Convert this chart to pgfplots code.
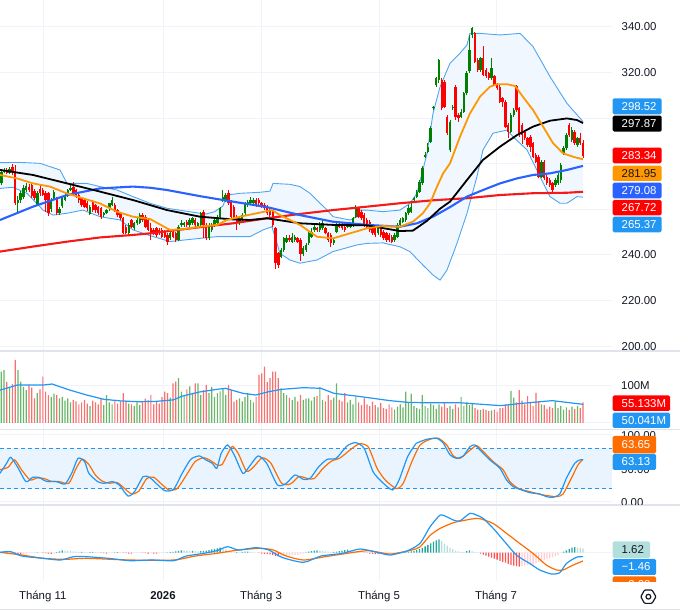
\documentclass[border=0pt]{standalone}
\usepackage{fontspec}
\setmainfont{Liberation Sans}
\usepackage{pgfplots}
\usepackage{pgfplotstable}
\pgfplotsset{compat=1.18}

\definecolor{gridc}{RGB}{240,243,250}
\definecolor{sepc}{RGB}{224,227,235}
\definecolor{textc}{RGB}{19,23,34}
\definecolor{cgreen}{RGB}{0,128,0}
\definecolor{cred}{RGB}{255,0,0}
\definecolor{vgreen}{RGB}{105,182,105}
\definecolor{vred}{RGB}{248,112,112}
\definecolor{bbline}{RGB}{80,165,240}
\definecolor{bbfill}{RGB}{240,247,254}
\definecolor{maorange}{RGB}{255,152,0}
\definecolor{mablue}{RGB}{41,98,255}
\definecolor{mared}{RGB}{245,25,25}
\definecolor{tvblue}{RGB}{33,150,243}
\definecolor{tvorange}{RGB}{255,109,0}
\definecolor{hdt}{RGB}{38,166,154}
\definecolor{hlt}{RGB}{178,223,219}
\definecolor{hr}{RGB}{255,82,82}
\definecolor{hlr}{RGB}{255,205,210}
\definecolor{stfill}{RGB}{233,244,254}
\newcommand\lf{\fontsize{11.4}{13}\selectfont}

\pgfplotstableread{
i o h l c v
0 271.4 277.5 270.5 276.5 138
1 276.5 278.0 275.8 277.3 142
2 277.3 278.0 275.5 276.0 110
3 276.0 278.5 275.5 277.5 97
4 278.7 280.0 275.0 276.5 105
5 276.5 279.5 262.0 262.6 169
6 262.6 266.0 258.5 264.0 142
7 264.0 268.0 263.0 267.0 111
8 265.6 270.5 264.5 269.2 97
9 268.5 271.5 267.5 270.2 88
10 270.0 271.0 267.5 268.5 102
11 270.5 272.0 265.0 266.0 95
12 268.0 269.0 264.0 265.0 66
13 262.0 268.0 261.5 267.0 80
14 269.0 270.5 266.0 267.0 90
15 268.5 269.5 265.8 266.5 124
16 267.0 268.0 259.0 264.0 84
17 267.0 267.5 257.0 258.3 75
18 260.0 265.0 259.0 264.0 70
19 265.0 268.5 264.5 267.5 79
20 264.5 265.5 257.5 258.3 75
21 258.3 261.0 257.7 260.0 66
22 261.5 265.6 260.5 265.0 70
23 264.0 267.5 263.5 266.5 60
24 266.5 269.0 265.5 268.5 66
25 268.5 270.5 268.0 269.5 55
26 270.0 272.0 266.5 267.0 62
27 268.5 269.0 265.0 265.6 58
28 266.5 267.0 263.0 264.1 50
29 264.85 265.5 261.0 261.9 55
30 264.0 264.5 260.5 261.2 62
31 263.0 263.5 259.5 260.5 52
32 258.0 262.0 257.5 261.2 45
33 263.4 264.0 259.0 259.7 60
34 261.9 262.5 258.5 259.7 55
35 261.2 261.5 257.5 258.3 50
36 260.5 261.0 256.0 256.8 65
37 257.5 259.0 256.5 258.3 48
38 258.3 260.2 257.8 259.7 75
39 260.5 263.0 259.5 262.6 55
40 262.0 265.6 261.5 264.1 50
41 261.9 262.6 259.0 259.7 62
42 259.7 260.2 256.8 257.5 52
43 258.3 259.0 255.5 256.1 58
44 256.1 256.8 249.0 249.5 80
45 252.4 253.0 249.0 249.5 60
46 249.5 254.0 248.8 253.2 52
47 255.35 256.0 251.7 252.4 50
48 251.7 254.5 251.0 253.9 45
49 253.9 256.1 253.2 255.3 55
50 253.9 258.3 253.5 257.5 48
51 257.5 258.3 254.6 255.35 58
52 256.8 257.5 252.0 252.4 65
53 255.35 256.0 250.5 251.0 62
54 251.7 253.9 246.6 249.5 75
55 251.0 251.7 248.8 249.5 50
56 251.7 252.4 248.0 248.8 58
57 251.0 251.7 248.8 249.5 52
58 251.0 251.7 247.3 248.05 70
59 250.2 251.0 247.3 248.05 84
60 248.8 249.5 244.5 245.9 80
61 247.3 250.2 246.6 249.5 68
62 250.2 251.0 247.3 248.05 106
63 249.5 250.2 245.9 246.6 111
64 246.6 253.2 246.0 252.4 120
65 253.2 255.35 252.4 253.9 84
66 253.2 254.6 252.4 253.9 75
67 254.6 255.35 252.4 253.2 90
68 253.2 256.1 252.4 255.35 98
69 253.9 256.8 253.2 256.1 80
70 255.35 256.1 252.4 253.2 106
71 252.4 254.6 251.7 253.9 106
72 253.2 259.0 252.4 258.3 75
73 259.0 259.7 247.3 253.2 88
74 253.2 253.9 246.6 247.3 102
75 247.3 253.9 246.6 253.2 80
76 251.0 253.9 250.2 253.2 97
77 253.2 256.1 252.4 255.35 70
78 253.9 257.5 253.2 256.8 80
79 256.8 261.2 256.1 260.5 85
80 264.1 268.5 263.4 265.6 92
81 264.1 267.05 263.4 266.3 75
82 267.05 268.5 262.0 262.7 102
83 263.4 264.1 256.1 256.8 88
84 261.2 261.9 256.1 256.8 57
85 256.8 257.5 251.0 253.9 62
86 253.9 256.8 253.2 256.1 66
87 255.35 258.3 254.6 257.5 58
88 258.3 263.4 257.5 262.7 70
89 261.9 264.1 261.2 263.4 80
90 262.7 265.6 262.0 264.1 62
91 262.7 264.85 262.0 264.1 55
92 264.1 264.85 261.2 261.9 70
93 264.1 264.85 262.0 262.7 129
94 262.7 263.4 260.5 261.2 133
95 261.9 262.7 259.7 260.5 151
96 261.2 261.9 257.5 258.3 110
97 259.7 260.5 256.8 257.5 120
98 259.0 259.7 252.4 253.2 138
99 251.7 252.4 233.9 236.4 138
100 240.7 241.5 234.5 235.6 120
101 239.3 243.0 238.5 242.2 93
102 242.2 248.05 241.5 247.3 80
103 245.9 248.8 245.2 247.3 75
104 247.3 248.8 245.9 246.6 68
105 245.9 249.5 245.2 248.05 62
106 246.6 248.8 245.9 248.05 70
107 247.3 248.05 245.2 245.9 58
108 246.6 247.3 237.5 240.5 75
109 240.5 244.0 239.5 243.0 62
110 242.2 245.1 241.5 244.4 65
111 245.1 250.2 244.4 249.5 66
112 248.0 251.7 247.3 250.2 60
113 250.97 253.9 250.2 252.4 70
114 251.7 252.4 250.2 251.0 72
115 250.97 254.6 250.2 253.2 97
116 251.7 255.35 251.0 253.9 62
117 251.7 252.4 249.0 249.5 58
118 249.5 250.2 245.85 246.6 75
119 248.8 249.5 243.7 245.1 62
120 245.1 247.3 244.4 246.6 68
121 250.2 253.9 249.5 253.2 106
122 253.2 253.9 251.7 252.4 62
123 253.2 253.9 250.97 251.7 58
124 252.4 253.2 250.2 250.97 80
125 252.4 254.6 251.7 253.9 55
126 252.4 254.6 251.7 253.9 62
127 253.2 256.8 252.4 256.1 50
128 256.8 261.9 256.1 260.5 70
129 260.5 261.2 256.1 256.8 55
130 259.0 259.7 255.35 256.1 48
131 257.5 258.3 252.4 253.2 66
132 255.35 256.1 251.7 252.4 50
133 254.6 255.35 250.2 250.97 45
134 252.4 253.2 248.8 249.5 57
135 251.7 252.4 248.0 248.8 48
136 249.5 253.2 248.8 252.4 42
137 251.7 252.4 248.0 248.8 53
138 250.2 250.97 246.6 247.3 40
139 249.5 250.2 245.85 246.6 38
140 248.8 249.5 245.85 246.6 50
141 248.0 248.8 245.1 245.85 42
142 246.6 249.5 245.85 248.8 36
143 248.0 253.9 247.3 253.2 44
144 253.2 256.1 252.4 255.35 50
145 254.6 256.8 253.9 256.1 42
146 255.35 259.0 254.6 258.3 84
147 258.3 261.9 257.5 260.5 55
148 259.0 263.4 258.3 261.2 79
149 264.1 265.6 263.4 264.9 45
150 265.6 268.5 264.9 267.8 40
151 267.8 273.0 267.1 272.2 38
152 271.4 279.0 270.7 278.0 75
153 283.1 285.3 282.4 283.9 45
154 285.3 289.0 284.6 287.5 40
155 289.7 296.5 289.0 295.6 52
156 304.3 305.5 303.7 305.1 48
157 314.6 318.0 313.8 317.5 38
158 316.75 325.8 315.3 325.5 50
159 316.75 317.5 303.5 304.3 44
160 316.0 316.75 304.3 305.1 53
161 300.7 301.5 292.5 293.4 40
162 286.1 299.2 285.3 298.5 46
163 304.3 306.0 303.5 305.1 38
164 313.8 314.6 299.2 300.7 50
165 301.5 302.2 298.5 299.9 42
166 300.7 304.0 299.9 302.9 69
167 302.9 311.6 302.2 311.0 45
168 311.0 320.5 310.1 319.7 55
169 320.5 336.5 319.7 330.0 48
170 336.5 340.1 335.0 339.4 52
171 337.2 338.0 324.1 324.8 40
172 325.5 326.2 320.4 321.1 36
173 321.1 327.0 320.4 326.2 35
174 326.2 331.5 318.3 319.0 38
175 321.1 321.8 317.5 318.3 35
176 319.7 320.4 316.8 317.5 32
177 317.5 326.2 316.8 321.8 34
178 318.3 319.0 313.9 314.6 36
179 314.6 315.3 312.4 313.2 30
180 313.8 314.6 306.6 307.3 40
181 308.7 309.4 305.1 307.3 40
182 307.3 308.0 295.6 296.3 50
183 297.0 297.7 291.5 294.1 48
184 294.1 302.2 293.4 301.4 86
185 301.4 304.3 300.7 303.6 68
186 313.9 314.6 302.9 303.6 55
187 304.3 305.1 291.9 292.6 88
188 297.0 297.7 288.8 292.6 60
189 294.1 294.8 290.4 291.2 50
190 291.2 291.9 287.5 288.2 72
191 291.9 292.6 285.3 287.5 55
192 288.9 289.7 282.4 283.1 45
193 283.9 284.6 280.2 281.0 81
194 283.1 283.9 273.6 274.3 58
195 274.3 281.6 273.6 280.9 50
196 280.9 281.6 272.9 273.6 48
197 274.3 275.0 270.7 271.4 38
198 272.9 273.6 269.9 270.7 44
199 271.4 272.2 267.8 268.5 40
200 270.7 273.6 269.9 272.9 57
201 271.4 275.8 270.7 275.1 40
202 272.9 280.2 271.4 279.4 46
203 284.6 288.0 283.9 286.8 36
204 286.8 293.4 286.1 292.6 42
205 296.9 297.7 291.9 292.6 35
206 290.4 296.3 289.7 294.8 44
207 294.1 294.8 288.2 289.0 38
208 288.2 291.9 287.5 291.2 45
209 291.2 293.4 288.2 289.0 40
210 289.0 290.4 282.6 283.34 55.133
}\candles

\pgfplotstableread{
i h k
0 0.3 0
1 0.5 0
2 0.6 0
3 0.4 1
4 0.1 1
5 -0.2 2
6 -0.4 2
7 -0.5 2
8 -0.4 3
9 -0.3 3
10 -0.2 3
11 -0.1 3
12 0.02 0
13 0.1 0
14 0.02 1
15 -0.1 2
16 -0.2 2
17 -0.3 2
18 -0.4 2
19 -0.3 3
20 0.2 0
21 0.5 0
22 0.9 0
23 0.8 1
24 0.7 1
25 0.6 1
26 0.5 1
27 0.4 1
28 0.3 1
29 0.3 0
30 0.2 1
31 0.1 1
32 0.2 0
33 0.3 0
34 0.2 1
35 0.1 1
36 -0.1 2
37 -0.2 2
38 -0.3 2
39 -0.2 3
40 -0.1 3
41 0.1 0
42 0.2 0
43 0.1 1
44 -0.1 2
45 -0.2 2
46 -0.3 2
47 -0.3 2
48 -0.2 3
49 -0.1 3
50 0.05 0
51 -0.1 2
52 -0.2 2
53 -0.3 2
54 -0.2 3
55 -0.3 2
56 -0.3 2
57 -0.2 3
58 -0.1 3
59 0.05 0
60 0.1 0
61 0.2 0
62 0.3 0
63 0.5 0
64 0.7 0
65 0.9 0
66 0.8 1
67 0.7 1
68 0.6 1
69 0.7 0
70 0.6 1
71 0.5 1
72 0.6 0
73 0.7 0
74 0.8 0
75 1.0 0
76 1.2 0
77 1.4 0
78 1.6 0
79 1.9 0
80 1.6 1
81 1.2 1
82 0.6 1
83 0.2 1
84 0.1 1
85 0.2 0
86 0.1 1
87 0.3 0
88 0.4 0
89 0.4 0
90 0.3 1
91 0.1 1
92 0.05 1
93 -0.1 2
94 -0.3 2
95 -0.4 2
96 -0.5 2
97 -0.6 2
98 -0.8 2
99 -1.2 2
100 -1.4 2
101 -1.3 3
102 -1.2 3
103 -1.1 3
104 -1.0 3
105 -0.9 3
106 -0.85 3
107 -0.8 3
108 -0.6 3
109 -0.3 3
110 0.1 0
111 0.4 0
112 0.6 0
113 0.8 0
114 0.9 0
115 0.8 1
116 0.6 1
117 0.5 1
118 0.4 1
119 0.3 1
120 0.3 0
121 0.4 0
122 0.6 0
123 0.8 0
124 1.0 0
125 1.1 0
126 0.9 1
127 0.7 1
128 0.5 1
129 0.3 1
130 0.1 1
131 -0.1 2
132 -0.2 2
133 -0.3 2
134 -0.4 2
135 -0.5 2
136 -0.5 2
137 -0.4 3
138 -0.4 3
139 -0.3 3
140 -0.3 3
141 -0.2 3
142 -0.1 3
143 0.1 0
144 0.2 0
145 0.3 0
146 0.35 0
147 0.4 0
148 0.5 0
149 0.7 0
150 1.0 0
151 1.3 0
152 1.8 0
153 2.3 0
154 2.9 0
155 3.5 0
156 4.1 0
157 4.6 0
158 4.9 0
159 4.3 1
160 3.4 1
161 2.6 1
162 1.9 1
163 1.3 1
164 0.8 1
165 0.5 1
166 0.3 1
167 0.2 1
168 0.6 0
169 0.9 0
170 0.5 1
171 0.3 1
172 0.1 1
173 -0.3 2
174 -0.7 2
175 -1.1 2
176 -1.5 2
177 -1.8 2
178 -2.2 2
179 -2.6 2
180 -3.0 2
181 -3.4 2
182 -3.7 2
183 -4.1 2
184 -4.5 2
185 -4.8 2
186 -5.0 2
187 -5.2 2
188 -5.0 3
189 -4.8 3
190 -4.6 3
191 -4.4 3
192 -4.3 3
193 -3.9 3
194 -3.5 3
195 -3.1 3
196 -2.8 3
197 -2.4 3
198 -2.0 3
199 -1.7 3
200 -1.3 3
201 -0.8 3
202 -0.2 3
203 0.4 0
204 0.9 0
205 1.4 0
206 1.9 0
207 2.1 0
208 1.9 1
209 1.75 1
210 1.62 1
}\hist

\pgfplotstableread{
x y
-0.47 280.5
6.75 280.6
13.97 280.2
21.2 277.3
23.72 271.4
30.9 271.4
35.63 270.0
41.77 268.5
47.55 265.6
53.68 262.7
59.82 260.5
68.0 259.0
71.73 258.3
74.0 258.0
77.0 259.0
80.0 261.5
81.5 266.3
86.17 267.05
93.39 267.5
97.0 268.0
98.1 271.4
104.2 271.0
107.83 270.0
111.4 267.1
117.6 259.7
119.75 256.8
125.88 255.35
128.4 256.8
129.5 259.7
132.02 259.7
137.8 259.0
143.93 259.7
147.5 262.6
150.07 267.1
153.7 284.6
155.85 302.1
158.4 313.8
161.99 324.1
165.6 328.5
168.12 332.1
169.2 337.2
172.8 337.2
180.03 336.5
187.3 337.2
191.95 331.4
198.1 318.2
204.2 306.5
210.0 298.52
}\bbu

\pgfplotstableread{
x y
-0.47 269.2
4.22 269.7
9.3 267.0
15.1 259.7
18.7 257.5
23.72 258.3
29.5 259.7
35.63 256.8
42.9 255.35
47.55 251.0
53.68 248.5
60.9 245.9
71.73 247.3
77.87 248.05
89.78 248.05
94.5 251.0
97.7 252.4
98.8 248.05
100.6 240.7
104.2 237.8
107.83 236.4
113.97 237.8
119.75 241.5
128.4 244.4
132.02 245.1
137.8 245.3
143.93 243.6
147.5 241.5
152.2 235.6
155.85 231.2
158.4 229.0
160.9 233.4
164.5 245.1
168.12 258.3
171.7 274.3
173.9 286.1
177.5 293.4
182.6 294.8
184.7 291.9
189.8 286.1
194.5 274.35
198.1 265.6
201.7 262.7
204.2 262.7
207.8 265.6
210.0 265.37
}\bbl

\begin{document}
\begin{tikzpicture}[x=1pt,y=1pt]
\pgfplotsset{panel/.style={
  scale only axis, width=612pt, xmin=-0.47, xmax=220.47,
  anchor=south west,
  axis line style={draw=none}, tick style={draw=none}, major tick length=0pt,
  xtick={15.2,58.4,93.8,136.5,178.8}, xticklabels={}, yticklabels={},
  xmajorgrids, ymajorgrids, grid style={draw=gridc, line width=1pt},
}}
\tikzset{lab/.style={anchor=west, inner sep=0pt, font=\lf, text=textc}}

% ---------------- price panel
\begin{axis}[panel, at={(0pt,261pt)}, height=351pt, ymin=197.9, ymax=351.84,
  ytick={200,220,240,260,280,300,320,340}]
\addplot[fill=bbfill, draw=none] coordinates {(-0.47,280.5) (6.75,280.6) (13.97,280.2) (21.2,277.3) (23.72,271.4) (30.9,271.4) (35.63,270.0) (41.77,268.5) (47.55,265.6) (53.68,262.7) (59.82,260.5) (68.0,259.0) (71.73,258.3) (74.0,258.0) (77.0,259.0) (80.0,261.5) (81.5,266.3) (86.17,267.05) (93.39,267.5) (97.0,268.0) (98.1,271.4) (104.2,271.0) (107.83,270.0) (111.4,267.1) (117.6,259.7) (119.75,256.8) (125.88,255.35) (128.4,256.8) (129.5,259.7) (132.02,259.7) (137.8,259.0) (143.93,259.7) (147.5,262.6) (150.07,267.1) (153.7,284.6) (155.85,302.1) (158.4,313.8) (161.99,324.1) (165.6,328.5) (168.12,332.1) (169.2,337.2) (172.8,337.2) (180.03,336.5) (187.3,337.2) (191.95,331.4) (198.1,318.2) (204.2,306.5) (210.0,298.52)
(210.0,265.37) (207.8,265.6) (204.2,262.7) (201.7,262.7) (198.1,265.6) (194.5,274.35) (189.8,286.1) (184.7,291.9) (182.6,294.8) (177.5,293.4) (173.9,286.1) (171.7,274.3) (168.12,258.3) (164.5,245.1) (160.9,233.4) (158.4,229.0) (155.85,231.2) (152.2,235.6) (147.5,241.5) (143.93,243.6) (137.8,245.3) (132.02,245.1) (128.4,244.4) (119.75,241.5) (113.97,237.8) (107.83,236.4) (104.2,237.8) (100.6,240.7) (98.8,248.05) (97.7,252.4) (94.5,251.0) (89.78,248.05) (77.87,248.05) (71.73,247.3) (60.9,245.9) (53.68,248.5) (47.55,251.0) (42.9,255.35) (35.63,256.8) (29.5,259.7) (23.72,258.3) (18.7,257.5) (15.1,259.7) (9.3,267.0) (4.22,269.7) (-0.47,269.2)};
\addplot[bbline, line width=0.9pt] table[x=x,y=y] {\bbu};
\addplot[bbline, line width=0.9pt] table[x=x,y=y] {\bbl};
% wicks
\addplot[draw=none, mark=none, forget plot, error bars/.cd, y dir=plus, y explicit, error mark=none,
  error bar style={draw=cgreen, solid, line width=1pt}]
  table[x=i, y expr={\thisrow{c}>=\thisrow{o} ? \thisrow{l} : nan},
  y error plus expr={\thisrow{h}-\thisrow{l}}] {\candles};
\addplot[draw=none, mark=none, forget plot, error bars/.cd, y dir=plus, y explicit, error mark=none,
  error bar style={draw=cred, solid, line width=1pt}]
  table[x=i, y expr={\thisrow{c}<\thisrow{o} ? \thisrow{l} : nan},
  y error plus expr={\thisrow{h}-\thisrow{l}}] {\candles};
% bodies
\addplot[draw=none, mark=none, forget plot, error bars/.cd, y dir=plus, y explicit, error mark=none,
  error bar style={draw=cgreen, solid, line width=2.4pt}]
  table[x=i, y expr={\thisrow{c}>=\thisrow{o} ? \thisrow{o} : nan},
  y error plus expr={max(\thisrow{c}-\thisrow{o},0.35)}] {\candles};
\addplot[draw=none, mark=none, forget plot, error bars/.cd, y dir=plus, y explicit, error mark=none,
  error bar style={draw=cred, solid, line width=2.4pt}]
  table[x=i, y expr={\thisrow{c}<\thisrow{o} ? \thisrow{c} : nan},
  y error plus expr={max(\thisrow{o}-\thisrow{c},0.35)}] {\candles};
% moving averages
\addplot[mared, line width=2.1pt] coordinates {(-0.47,241.5) (11.44,243.7) (23.72,245.85) (35.63,247.7) (47.55,248.8) (53.68,249.5) (59.82,250.4) (71.73,252.2) (83.65,253.9) (95.92,256.1) (107.83,258.0) (119.75,259.7) (132.02,261.2) (143.93,262.7) (155.85,264.0) (168.12,264.9) (180.03,266.3) (191.95,267.1) (204.2,267.3) (210.0,267.72)};
\addplot[mablue, line width=2.1pt] coordinates {(-0.47,255.35) (11.44,261.2) (23.72,266.3) (35.63,269.2) (47.55,270.0) (53.68,269.5) (59.82,268.5) (71.73,265.8) (83.65,263.4) (95.92,261.0) (107.83,257.5) (119.75,254.6) (132.02,253.2) (143.93,252.4) (150.07,253.9) (155.85,256.8) (161.99,261.0) (168.12,265.6) (173.9,268.5) (180.03,271.4) (186.2,273.6) (191.95,275.1) (198.1,275.8) (204.2,277.3) (210.0,279.08)};
\addplot[black, line width=1.8pt] coordinates {(-0.47,277.3) (11.44,275.1) (23.72,271.4) (35.63,267.8) (47.55,264.1) (53.68,261.9) (59.82,259.7) (71.73,256.8) (83.65,255.6) (89.78,255.35) (95.92,256.1) (107.83,253.9) (119.75,253.2) (132.02,253.0) (143.93,250.5) (148.6,250.7) (153.7,255.0) (158.4,260.3) (161.99,263.4) (168.12,272.9) (173.9,281.7) (180.03,287.5) (186.2,292.6) (191.95,296.3) (198.1,298.9) (204.2,299.9) (207.8,299.2) (210.0,297.87)};
\addplot[maorange, line width=1.8pt] coordinates {(-0.47,275.1) (5.67,273.6) (11.44,271.4) (17.58,270.0) (23.72,267.0) (29.5,264.85) (35.63,262.6) (41.77,259.0) (47.55,256.8) (53.68,255.8) (60.9,251.0) (65.6,251.3) (71.73,252.4) (77.87,253.2) (81.48,255.35) (86.17,256.8) (93.39,258.6) (97.7,259.7) (100.6,257.5) (104.2,255.35) (107.83,253.2) (113.97,248.0) (119.75,247.3) (125.88,249.5) (132.02,251.7) (137.8,252.7) (143.93,252.4) (148.6,254.6) (152.2,258.3) (154.8,262.7) (157.3,270.0) (159.5,275.8) (161.99,280.2) (165.6,291.9) (169.2,302.1) (172.8,309.4) (176.4,313.8) (178.95,314.9) (182.6,314.9) (185.5,314.1) (188.3,309.4) (191.95,303.6) (195.6,296.3) (199.2,289.0) (202.8,284.6) (206.4,283.1) (210.0,281.95)};
\end{axis}

% ---------------- volume panel
\begin{axis}[panel, at={(0pt,183pt)}, height=78pt, ymin=-16.1, ymax=193, ytick={0,100}]
\addplot[ybar, bar shift=0pt, bar width=1.2pt, fill=vgreen, draw=none]
  table[x=i, y expr={\thisrow{c}>=\thisrow{o} ? \thisrow{v} : nan}] {\candles};
\addplot[ybar, bar shift=0pt, bar width=1.2pt, fill=vred, draw=none]
  table[x=i, y expr={\thisrow{c}<\thisrow{o} ? \thisrow{v} : nan}] {\candles};
\addplot[tvblue, line width=1.2pt] coordinates {(-0.47,88) (5.8,101.8) (15.2,101.8) (18.3,104.5) (24.6,88.5) (30.8,75) (37.1,63.4) (43.4,59) (49.6,57) (55.9,58) (62.2,62) (65.3,72) (71.5,83) (77.8,90.2) (80.9,92.9) (87.2,79.5) (91.9,75) (96.6,84) (101.3,90.2) (109.1,94.7) (115.4,92.9) (120.1,79.5) (127.9,72.4) (134.2,66.1) (140.4,59.8) (146.7,55.4) (151.2,54.5) (165,54.5) (180.3,46.5) (188,52.7) (198.9,59.9) (210,50.041)};
\end{axis}

% ---------------- stochastic panel
\begin{axis}[panel, at={(0pt,107pt)}, height=76pt, ymin=-4.48, ymax=108.96, ytick={0,50,100}]
\fill[stfill] (axis cs:-0.47,20) rectangle (axis cs:220.47,80);
\draw[tvblue, line width=1pt, dash pattern=on 4pt off 3pt] (axis cs:-0.47,80) -- (axis cs:220.47,80);
\draw[tvblue, line width=1pt, dash pattern=on 4pt off 3pt] (axis cs:-0.47,20) -- (axis cs:220.47,20);
\addplot[tvorange, line width=1.2pt, smooth, tension=0.4] coordinates {(-0.47,48) (2.5,52) (4.8,63) (7.3,48) (10.4,33) (13,36) (15.5,35) (18,31) (21,30.4) (24.4,28) (27,50) (29.2,64) (31.6,56) (34,40) (36.5,31) (39,28) (41.8,29) (44,22) (47,12) (49.6,16) (52.5,35) (55,37) (57.5,28) (60.5,18) (63.5,20) (66.8,40) (69.9,60) (73,66) (75.5,62) (78,55) (79.7,56) (81.5,70) (83.4,83) (85.6,72) (88.5,46) (91,52) (94.2,66) (97.3,58) (101.2,28) (104.4,27) (107.5,38) (110.6,35) (113,35) (116.1,50) (119.2,61) (122.4,66) (126.3,79) (129.4,87) (132.5,82) (135.7,50) (138.8,32) (142.7,20) (145.1,28) (148.2,60) (151.2,85.1) (154.8,93.6) (157.8,95.1) (160.8,85.1) (163.2,68.7) (165.6,65.2) (168.6,75.2) (171.6,84.1) (174.0,75.2) (177.6,60.2) (181.2,47.8) (183.6,30.4) (186.6,20.4) (190.8,15.4) (195.6,10.5) (200.4,8.0) (202.8,12.0) (205.8,35.4) (208.2,55.3) (210.0,63.65)};
\addplot[tvblue, line width=1.2pt, smooth, tension=0.4] coordinates {(-0.47,42.8) (1.9,57.7) (3.4,66.7) (5.8,52.7) (8.9,30.4) (11.3,36.8) (13.6,36.8) (15.2,32.9) (16.8,30.4) (19.9,30.4) (23.0,26.9) (25.4,42.8) (27.7,65.2) (30.1,60.2) (31.6,42.8) (34.8,30.4) (37.1,27.9) (40.2,30.4) (42.6,25.4) (45.7,9.0) (48.1,15.4) (51.2,37.8) (53.5,36.8) (55.9,27.9) (59.0,16.9) (62.2,18.9) (65.3,42.8) (68.4,63.7) (71.5,68.7) (73.9,62.7) (76.2,57.7) (77.8,50.3) (79.4,72.7) (81.7,85.1) (84.1,70.2) (87.2,42.8) (89.5,52.7) (92.7,68.7) (95.8,57.7) (99.7,25.4) (102.9,27.9) (106.0,40.3) (109.1,33.8) (111.5,35.3) (114.6,52.7) (117.7,63.7) (120.9,65.2) (124.8,83.6) (127.9,88.6) (131.0,80.1) (134.2,45.3) (137.3,30.4) (141.2,17.9) (143.6,32.9) (146.7,67.7) (149.8,87.6) (151.2,90.1) (153.6,93.6) (157.2,95.1) (159.6,87.6) (162.0,70.2) (164.4,65.2) (166.8,68.7) (169.2,82.6) (171.0,85.1) (172.8,77.6) (176.4,62.7) (180.0,50.3) (182.4,32.9) (184.8,22.9) (187.2,18.9) (190.8,13.9) (194.4,11.9) (196.8,8.0) (199.2,7.0) (201.6,11.9) (204.0,35.4) (207.0,57.7) (208.8,62.7) (210.0,63.13)};
\end{axis}

% ---------------- MACD panel
\begin{axis}[panel, at={(0pt,31pt)}, height=76pt, ymin=-10.48, ymax=17.67, ytick={0}]
\addplot[ybar, bar shift=0pt, bar width=1.3pt, fill=hdt, draw=none]
  table[x=i, y expr={\thisrow{k}==0 ? \thisrow{h} : nan}] {\hist};
\addplot[ybar, bar shift=0pt, bar width=1.3pt, fill=hlt, draw=none]
  table[x=i, y expr={\thisrow{k}==1 ? \thisrow{h} : nan}] {\hist};
\addplot[ybar, bar shift=0pt, bar width=1.3pt, fill=hr, draw=none]
  table[x=i, y expr={\thisrow{k}==2 ? \thisrow{h} : nan}] {\hist};
\addplot[ybar, bar shift=0pt, bar width=1.3pt, fill=hlr, draw=none]
  table[x=i, y expr={\thisrow{k}==3 ? \thisrow{h} : nan}] {\hist};
\addplot[tvorange, line width=1.2pt, smooth, tension=0.4] coordinates {(-0.47,0.13) (7.4,-0.86) (15.2,-2.09) (23.0,-2.46) (30.8,-2.09) (46.5,-2.71) (62.2,-2.71) (70.0,-1.23) (77.8,-0.24) (85.6,1.0) (93.5,1.61) (98.2,1.0) (102.9,-1.23) (109.1,-2.71) (116.9,-1.48) (124.8,-0.24) (132.6,0.75) (140.4,-0.49) (148.2,1.0) (151.2,2.2) (154.8,6.4) (158.4,9.0) (163.2,11.1) (166.8,11.9) (172.2,12.7) (177.6,10.8) (182.4,7.15) (187.2,3.4) (192.0,-0.3) (196.8,-4.6) (200.4,-6.4) (202.8,-6.4) (206.4,-4.6) (210.0,-3.08)};
\addplot[tvblue, line width=1.2pt, smooth, tension=0.4] coordinates {(-0.47,0.13) (3.4,0.38) (7.4,-1.23) (15.2,-2.09) (21.4,-2.71) (26.1,-1.48) (30.8,-1.48) (38.7,-2.09) (46.5,-2.96) (54.3,-2.71) (62.2,-2.96) (66.8,-1.23) (73.1,-0.24) (77.8,0.75) (81.7,2.23) (85.6,1.0) (91.9,1.86) (96.6,1.0) (101.3,-1.72) (109.1,-3.57) (115.4,-1.23) (123.2,-0.24) (129.5,1.37) (135.7,0.13) (140.4,-0.86) (146.7,0.75) (151.2,3.5) (154.8,9.6) (158.4,13.9) (160.8,13.3) (163.2,12.1) (165.6,11.8) (169.2,14.6) (171.6,13.9) (174.0,12.7) (177.6,9.0) (181.2,4.7) (186.0,-0.9) (190.8,-4.0) (194.4,-6.4) (198.6,-7.9) (201.6,-7.4) (204.0,-4.0) (207.6,-1.7) (210.0,-1.46)};
\end{axis}

% ---------------- separators
\foreach \yy in {351,429.3,505,609.5}{
  \draw[sepc, line width=1.3pt] (0,{612-\yy}) -- (680,{612-\yy});
}

% ---------------- price scale labels
\node[lab] at (621.5,{612-27}) {340.00};
\node[lab] at (621.5,{612-72.6}) {320.00};
\node[lab] at (621.5,{612-255}) {240.00};
\node[lab] at (621.5,{612-300.6}) {220.00};
\node[lab] at (621.5,{612-346.2}) {200.00};
\newcommand\pbox[6]{%
  \fill[#4, rounded corners=1.5pt] (612.7,{612-#2}) rectangle (#1,{612-#3});
  \node[lab, text=#5] at (621.5,{612-(#2+#3)/2}) {#6};}
\pbox{661.7}{98.3}{114.3}{tvblue}{white}{298.52}
\pbox{661.7}{115.7}{131.7}{black}{white}{297.87}
\pbox{661.7}{147.7}{163.3}{cred}{white}{283.34}
\pbox{661.7}{165.7}{181}{maorange}{textc}{281.95}
\pbox{661.7}{182.7}{198.3}{mablue}{white}{279.08}
\pbox{661.7}{200}{215.3}{cred}{white}{267.72}
\pbox{661.7}{216.7}{232.3}{tvblue}{white}{265.37}

% volume labels
\node[lab] at (621,{612-385.7}) {100M};
\pbox{670}{395.5}{411}{cred}{white}{55.133M}
\pbox{670}{412.7}{428}{tvblue}{white}{50.041M}

% stochastic labels
\begin{scope}
\clip (600,{612-505}) rectangle (680,{612-429.9});
\node[lab] at (621,{612-436}) {100.00};
\node[lab] at (621,{612-470}) {50.00};
\node[lab] at (621,{612-502.7}) {0.00};
\pbox{656}{436}{453.3}{tvorange}{white}{63.65}
\pbox{656}{454}{470}{tvblue}{white}{63.13}
\end{scope}

% MACD labels
\begin{scope}
\clip (600,{612-581.5}) rectangle (680,{612-505.7});
\pbox{650}{541.5}{558}{hlt}{textc}{1.62}
\pbox{656}{559}{575}{tvblue}{white}{−1.46}
\pbox{656}{576.3}{592}{tvorange}{white}{−3.08}
\end{scope}

% x-axis labels
\node[font=\lf, text=textc, anchor=base] at (42.7,12.5) {Tháng 11};
\node[font=\lf\bfseries, text=textc, anchor=base] at (163,12.5) {2026};
\node[font=\lf, text=textc, anchor=base] at (261,12.5) {Tháng 3};
\node[font=\lf, text=textc, anchor=base] at (379,12.5) {Tháng 5};
\node[font=\lf, text=textc, anchor=base] at (496,12.5) {Tháng 7};

% settings icon
\draw[textc, line width=1.2pt, rounded corners=1pt] (656,15.3) -- (652,22) -- (644.5,22) -- (640.8,15.3) -- (644.5,8.6) -- (652,8.6) -- cycle;
\draw[textc, line width=1.2pt] (648.4,15.3) circle (2.4);

\pgfresetboundingbox
\useasboundingbox (0,0) rectangle (680,612);
\end{tikzpicture}
\end{document}
